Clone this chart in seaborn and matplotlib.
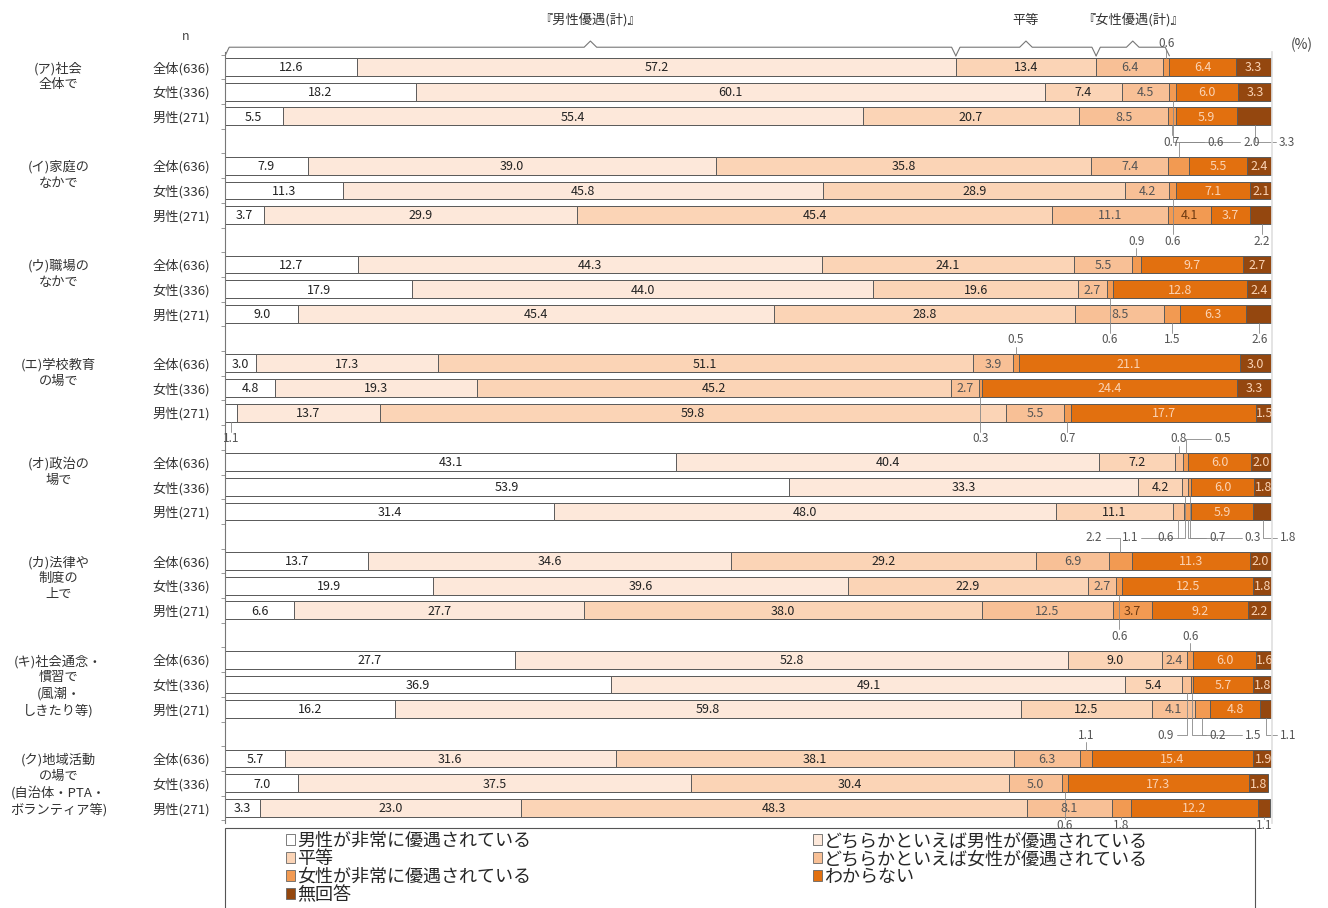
import numpy as np
import pandas as pd
import matplotlib
matplotlib.use("Agg")
import matplotlib.pyplot as plt
import matplotlib.transforms as mtransforms
from matplotlib.patches import Rectangle, Patch
import seaborn as sns

# question groups, respondent rows, answer categories
groups = ["(ア)社会\n全体で", "(イ)家庭の\nなかで", "(ウ)職場の\nなかで", "(エ)学校教育\nの場で",
          "(オ)政治の\n場で", "(カ)法律や\n制度の\n上で", "(キ)社会通念・\n慣習で\n(風潮・\nしきたり等)",
          "(ク)地域活動\nの場で\n(自治体・PTA・\nボランティア等)"]
respondents = ["全体(636)", "女性(336)", "男性(271)"]
categories = ["男性が非常に優遇されている", "どちらかといえば男性が優遇されている", "平等",
              "どちらかといえば女性が優遇されている", "女性が非常に優遇されている", "わからない", "無回答"]

# 24 values per category: ア..ク, each 全体 / 女性 / 男性
very_male = [12.6, 18.2, 5.5, 7.9, 11.3, 3.7, 12.7, 17.9, 7.0, 3.0, 4.8, 1.1,
             43.1, 53.9, 31.4, 13.7, 19.9, 6.6, 27.7, 36.9, 16.2, 5.7, 7.0, 3.3]
rather_male = [57.2, 60.1, 55.4, 39.0, 45.8, 29.9, 44.3, 44.0, 45.4, 17.3, 19.3, 13.7,
               40.4, 33.3, 48.0, 34.6, 39.6, 27.7, 52.8, 49.1, 59.8, 31.6, 37.5, 25.0]
equal = [13.4, 7.4, 20.7, 35.8, 28.9, 45.4, 24.1, 19.6, 28.8, 51.1, 45.2, 59.8,
         7.2, 4.2, 11.1, 29.2, 22.9, 38.0, 9.0, 5.4, 12.5, 38.1, 30.4, 48.3]
rather_female = [6.4, 4.5, 8.5, 7.4, 4.2, 11.1, 5.5, 2.7, 8.5, 3.9, 2.7, 5.5,
                 0.8, 0.6, 1.1, 6.9, 2.7, 12.5, 2.4, 0.9, 4.1, 6.3, 5.0, 8.1]
very_female = [0.6, 0.6, 0.7, 2.0, 0.6, 4.1, 0.9, 0.6, 1.5, 0.5, 0.3, 0.7,
               0.5, 0.3, 0.7, 2.2, 0.6, 3.7, 0.6, 0.2, 1.5, 1.1, 0.6, 1.8]
dont_know = [6.4, 6.0, 5.9, 5.5, 7.1, 3.7, 9.7, 12.8, 6.3, 21.1, 24.4, 17.7,
             6.0, 6.0, 5.9, 11.3, 12.5, 9.2, 6.0, 5.7, 4.8, 15.4, 17.3, 12.2]
no_answer = [3.3, 3.3, 3.3, 2.4, 2.1, 2.2, 2.7, 2.4, 2.6, 3.0, 3.3, 1.5,
             2.0, 1.8, 1.8, 2.0, 1.8, 2.2, 1.6, 1.8, 1.1, 1.9, 1.8, 1.1]
series = [very_male, rather_male, equal, rather_female, very_female, dont_know, no_answer]

# labels printed in the source that differ from the drawn bar length
printed = {(8, 0): "9.0", (23, 1): "23.0"}

colors = ["#ffffff", "#fde8da", "#fbd4b6", "#f8c096", "#f29a52", "#e2700f", "#94470f"]
txt_colors = ["#222222", "#222222", "#222222", "#555555", "#6e3a12", "#fbd3b4", "#fbd3b4"]
edge = "#5a5a5a"

sns.set_theme(style="white")
plt.rcParams["font.family"] = ["Noto Sans CJK JP", "DejaVu Sans"]

rows = []
for i in range(24):
    g, r = divmod(i, 3)
    cum = 0.0
    for c, vals in enumerate(series):
        cum += vals[i]
        rows.append(dict(idx=i, grp=g, resp=r, pos=g * 4 + r, kind=c, value=vals[i],
                         left=cum - vals[i], right=cum))
df = pd.DataFrame(rows)

fig = plt.figure(figsize=(13.28, 9.08), dpi=100)
ax = fig.add_axes([225 / 1328, 1 - 822.8 / 908, 1047 / 1328, 815.1 / 908])

# stacked bars: draw cumulative totals from the last category backwards
for c in reversed(range(7)):
    sns.barplot(data=df[df["kind"] == c], x="right", y="pos", orient="h", native_scale=True,
                color=colors[c], saturation=1, edgecolor=edge, linewidth=0.7,
                width=0.72, errorbar=None, ax=ax)

ax.set_xlim(0, 100)
ax.set_ylim(30.6, -2.4)
ax.set_xlabel("")
ax.set_ylabel("")
ax.set_xticks([])
bar_pos = [g * 4 + r for g in range(8) for r in range(3)]
ax.set_yticks(bar_pos)
ax.set_yticklabels(respondents * 8, fontsize=9.5, color="#333333")
ax.tick_params(axis="y", which="major", length=0, pad=11)
ax.set_yticks(np.arange(-0.5, 31, 1.0), minor=True)
ax.tick_params(axis="y", which="minor", length=3, width=0.6, color="#888888", direction="out", left=True)
for s in ["top", "bottom"]:
    ax.spines[s].set_visible(False)
ax.spines["left"].set_color("#777777")
ax.spines["left"].set_linewidth(0.8)
ax.spines["left"].set_bounds(-0.6, 30.6)
ax.spines["right"].set_color("#e0e0e0")
ax.spines["right"].set_bounds(-0.6, 30.6)

# group labels at the left
tr = mtransforms.blended_transform_factory(fig.transFigure, ax.transData)
for g, name in enumerate(groups):
    ax.text(0.044, g * 4 - 0.22, name, transform=tr, ha="center", va="top",
            multialignment="center", fontsize=9.5, color="#333333", linespacing=1.3)

# value labels; small ones go into the gap rows between groups
male_na_below = {0, 1, 2, 4, 6, 7}
slots = {k: [] for k in range(9)}
for row in df.itertuples():
    i, c, v = row.idx, row.kind, row.value
    xc = (row.left + row.right) / 2
    text = printed.get((i, c), f"{v:.1f}")
    if c == 6:
        outside = row.resp == 2 and row.grp in male_na_below
    else:
        outside = v < 2.3
    if not outside:
        ax.text(xc, row.pos + 0.03, text, ha="center", va="center", fontsize=9,
                color=txt_colors[c])
    elif row.resp == 0:
        slots[row.grp].append([xc, text, row.pos - 0.36])
    else:
        slots[row.grp + 1].append([xc, text, row.pos + 0.36])

slot_y = [k * 4 - 0.95 for k in range(8)] + [30.72]


def spread(items, gap=3.4, xmax=100.8):
    items.sort(key=lambda t: t[0])
    xs = [t[0] for t in items]
    for k in range(1, len(xs)):
        xs[k] = max(xs[k], xs[k - 1] + gap)
    if xs and xs[-1] > xmax:
        xs[-1] = xmax
        for k in range(len(xs) - 2, -1, -1):
            xs[k] = min(xs[k], xs[k + 1] - gap)
    return xs


for k, items in slots.items():
    ylab = slot_y[k]
    for (xc, text, ybar), xl in zip(items, spread(items)):
        if abs(xl - xc) < 0.3:
            ax.plot([xc, xc], [ybar, ylab + (0.28 if ylab < ybar else -0.28)],
                    color="#888888", lw=0.6, clip_on=False)
            ax.text(xc, ylab, text, ha="center", va="center", fontsize=8.5, color="#555555")
        else:
            side = 1 if xl > xc else -1
            ax.plot([xc, xc, xl - side * 0.3], [ybar, ylab, ylab], color="#888888",
                    lw=0.6, clip_on=False)
            ax.text(xl, ylab, text, ha="left" if side > 0 else "right", va="center",
                    fontsize=8.5, color="#555555")

# header braces over the first bar
first = [s[0] for s in series]
spans = [(0, first[0] + first[1], "『男性優遇(計)』"),
         (first[0] + first[1], sum(first[:3]), "平等"),
         (sum(first[:3]), sum(first[:5]), "『女性優遇(計)』")]
for x0, x1, lab in spans:
    m = (x0 + x1) / 2
    ax.plot([x0, x0 + 0.4, m - 0.6, m, m + 0.6, x1 - 0.4, x1],
            [-0.45, -0.8, -0.8, -1.05, -0.8, -0.8, -0.45], color="#777777", lw=0.8)
    ax.text(m, -1.9, lab, ha="center", va="center", fontsize=9.5, color="#333333")

fig.text(186 / 1328, 1 - 36 / 908, "n", ha="center", va="center", fontsize=9, color="#444444")
fig.text(1302 / 1328, 1 - 45 / 908, "(%)", ha="center", va="center", fontsize=10, color="#444444")

# legend box (cut by the bottom edge as in the source)
fig.patches.append(Rectangle((225 / 1328, -0.02), 1030 / 1328, 1 - 828 / 908 + 0.02,
                             transform=fig.transFigure, fill=False, edgecolor="#555555", lw=0.8))
order = [0, 2, 4, 6, 1, 3, 5]
handles = [Patch(facecolor=colors[c], edgecolor="#666666", linewidth=0.6) for c in order]
fig.legend(handles, [categories[c] for c in order], loc="upper left",
           bbox_to_anchor=(286 / 1328, 1 - 832 / 908), ncol=2, frameon=False,
           fontsize=13, handlelength=0.5, handleheight=0.5, handletextpad=0.12,
           labelspacing=0.0, columnspacing=15.6, borderpad=0, borderaxespad=0)

fig.savefig("out.png", dpi=100)
